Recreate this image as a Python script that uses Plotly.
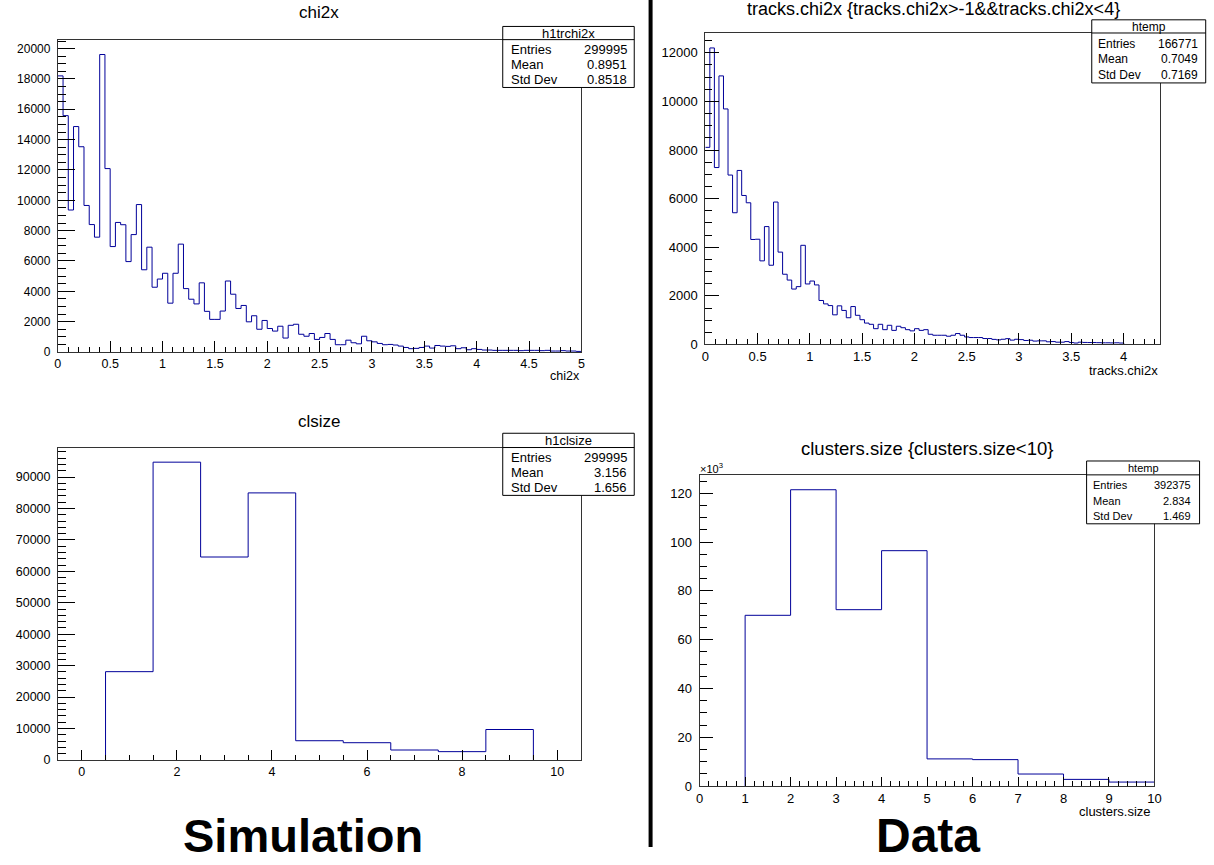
import numpy as np
import plotly.graph_objects as go

W, H = 1214, 865

# ---------------- data ----------------
# Simulation chi2x: 100 bins on [0, 5]
sim_chi2x_lo, sim_chi2x_hi, sim_chi2x_nbins = 0.0, 5.0, 100
sim_chi2x_counts = [
    18200, 15580, 9360, 14860, 13530, 9660, 8400, 7570, 19610, 12090,
    6950, 8540, 8390, 5960, 7740, 9720, 5420, 6910, 4270, 4810,
    5190, 3220, 5190, 7110, 4180, 3480, 3170, 4560, 2680, 2150,
    2150, 2700, 4680, 3810, 2870, 3070, 1990, 2390, 1500, 2080,
    1550, 1380, 1700, 920, 1760, 1830, 1170, 1040, 1220, 830,
    960, 1220, 830, 480, 480, 780, 610, 540, 1040, 740,
    670, 565, 480, 500, 460, 390, 300, 220, 240, 300,
    390, 260, 430, 390, 370, 410, 220, 280, 150, 220,
    170, 130, 130, 110, 110, 110, 110, 110, 90, 110,
    110, 110, 90, 110, 65, 65, 90, 65, 65, 40,
]

# Data tracks.chi2x: 100 bins on [0, 4.35]
data_chi2x_lo, data_chi2x_hi, data_chi2x_nbins = 0.0, 4.35, 100
data_chi2x_counts = [
    8110, 12200, 7280, 11050, 9690, 6970, 5420, 7160, 6130, 5830,
    4320, 4330, 3440, 4850, 3260, 5860, 3800, 2890, 2650, 2280,
    2380, 4080, 2490, 2610, 2450, 1810, 1670, 1600, 1220, 1590,
    1400, 1100, 1560, 1200, 1020, 880, 830, 650, 830, 610,
    790, 580, 750, 690, 610, 560, 650, 580, 610, 420,
    380, 380, 380, 340, 380, 450, 380, 310, 285, 285,
    285, 245, 245, 210, 190, 215, 240, 180, 215, 200,
    165, 175, 140, 150, 150, 110, 120, 95, 95, 120,
    82, 60, 95, 85, 80, 80, 75, 70, 70, 65,
    70, 60, 0, 0, 0, 0, 0, 0, 0, 0,
]

# Simulation clsize: 11 bins on [-0.5, 10.5]
sim_cl_lo, sim_cl_hi, sim_cl_nbins = -0.5, 10.5, 11
sim_cl_counts = [0, 28080, 94740, 64560, 84960, 6100, 5470, 3150, 2630, 9670, 0]

# Data clusters.size (x10^3): 10 bins on [0, 10]
data_cl_lo, data_cl_hi, data_cl_nbins = 0.0, 10.0, 10
data_cl_counts_k = [0, 70.0, 121.5, 72.3, 96.5, 11.1, 10.8, 4.9, 2.7, 1.6]

# stat boxes
stats_tl = ("h1trchi2x", [("Entries", "299995"), ("Mean", "0.8951"), ("Std Dev", "0.8518")])
stats_tr = ("htemp", [("Entries", "166771"), ("Mean", "0.7049"), ("Std Dev", "0.7169")])
stats_bl = ("h1clsize", [("Entries", "299995"), ("Mean", "3.156"), ("Std Dev", "1.656")])
stats_br = ("htemp", [("Entries", "392375"), ("Mean", "2.834"), ("Std Dev", "1.469")])

titles = ["chi2x", "tracks.chi2x {tracks.chi2x>-1&&tracks.chi2x<4}",
          "clsize", "clusters.size {clusters.size<10}"]

FONT = "Liberation Sans"
LINE = "#000099"


def px(x):
    return x / W


def py(y):
    return 1 - y / H


def step(lo, hi, nb, counts):
    """ROOT-like outline: skip empty bins at both ends, drop to 0 at the ends."""
    edges = np.linspace(lo, hi, nb + 1)
    c = np.asarray(counts, dtype=float)
    nz = np.nonzero(c)[0]
    i0, i1 = nz[0], nz[-1]
    xs, ys = [], []
    if i0 > 0:
        xs.append(edges[i0]); ys.append(0.0)
    for i in range(i0, i1 + 1):
        xs.append(edges[i]); ys.append(c[i])
    xs.append(edges[i1 + 1]); ys.append(c[i1])
    if i1 < nb - 1:
        xs.append(edges[i1 + 1]); ys.append(0.0)
    return xs, ys


fig = go.Figure()

hists = [
    (sim_chi2x_lo, sim_chi2x_hi, sim_chi2x_nbins, sim_chi2x_counts, "x", "y"),
    (data_chi2x_lo, data_chi2x_hi, data_chi2x_nbins, data_chi2x_counts, "x2", "y2"),
    (sim_cl_lo, sim_cl_hi, sim_cl_nbins, sim_cl_counts, "x3", "y3"),
    (data_cl_lo, data_cl_hi, data_cl_nbins, data_cl_counts_k, "x4", "y4"),
]
for lo, hi, nb, c, xa, ya in hists:
    xs, ys = step(lo, hi, nb, c)
    fig.add_trace(go.Scatter(x=xs, y=ys, mode="lines", line=dict(color=LINE, width=1, shape="hv"),
                             xaxis=xa, yaxis=ya, showlegend=False, hoverinfo="skip"))


def ax(domain, rng, dtick, mdtick, tlen, mlen, anchor, fsize=12.5, fmt=None, standoff=None):
    d = dict(domain=domain, range=rng, showgrid=False, zeroline=False, showline=True, mirror=True,
             linecolor="#333333", linewidth=1, ticks="inside", ticklen=tlen, tickwidth=1,
             tickcolor="#000000", tick0=0, dtick=dtick,
             minor=dict(ticks="inside", ticklen=mlen, dtick=mdtick, tickwidth=1, tickcolor="#000000",
                        showgrid=False),
             tickfont=dict(family=FONT, size=fsize, color="black"), anchor=anchor, fixedrange=True)
    if fmt:
        d["tickformat"] = fmt
    if standoff is not None:
        d["ticklabelstandoff"] = standoff
    return d


frames = {
    "tl": (54.3, 582.7, 40.0, 355.3),
    "tr": (707.7, 1166.7, 33.3, 347.7),
    "bl": (54.5, 582.2, 451.7, 767.0),
    "br": (702.0, 1161.0, 479.3, 793.3),
}


def dom(f):
    x0, x1, t, b = f
    return [px(x0), px(x1)], [py(b), py(t)]


dx, dy = dom(frames["tl"])
layout = dict(
    xaxis=ax(dx, [0, 5], 0.5, 0.1, 11, 5.5, "y", fsize=12.5),
    yaxis=ax(dy, [0, 20590], 2000, 500, 16.7, 8.5, "x", fsize=12, fmt="d", standoff=4),
)
dx, dy = dom(frames["tr"])
layout.update(
    xaxis2=ax(dx, [0, 4.35], 0.5, 0.1, 11, 5.5, "y2", fsize=13),
    yaxis2=ax(dy, [0, 12815], 2000, 500, 14, 7, "x2", fsize=13, fmt="d", standoff=4),
)
dx, dy = dom(frames["bl"])
layout.update(
    xaxis3=ax(dx, [-0.5, 10.5], 2, 0.5, 10, 5, "y3", fsize=12.5),
    yaxis3=ax(dy, [0, 99400], 10000, 2000, 16.6, 8.3, "x3", fsize=12.5, fmt="d", standoff=4),
)
dx, dy = dom(frames["br"])
layout.update(
    xaxis4=ax(dx, [0, 10], 1, 0.2, 9, 4.5, "y4", fsize=13),
    yaxis4=ax(dy, [0, 127.6], 20, 5, 13.7, 7, "x4", fsize=13, fmt="d", standoff=4),
)

shapes = []
annotations = []


def text(x, y, s, size, xanchor="center", bold=False):
    annotations.append(dict(x=px(x), y=py(y), xref="paper", yref="paper", text=s, showarrow=False,
                            xanchor=xanchor, yanchor="middle",
                            font=dict(family=FONT, size=size, color="black",
                                      weight="bold" if bold else "normal")))


def statbox(x0, x1, y0, ysep, y1, stats, size, header_y, rows_y, lab_x, val_x):
    shapes.append(dict(type="rect", xref="paper", yref="paper", x0=px(x0), x1=px(x1), y0=py(y1), y1=py(y0),
                       line=dict(color="black", width=1), fillcolor="white", layer="above"))
    shapes.append(dict(type="line", xref="paper", yref="paper", x0=px(x0), x1=px(x1), y0=py(ysep), y1=py(ysep),
                       line=dict(color="black", width=1), layer="above"))
    name, rows = stats
    text((x0 + x1) / 2, header_y, name, size)
    for (lab, val), yy in zip(rows, rows_y):
        text(lab_x, yy, lab, size, "left")
        text(val_x, yy, val, size, "right")


statbox(503.3, 636, 26.7, 40, 88.3, stats_tl, 13, 33.5, [49.5, 65, 80.5], 510, 631)
statbox(1097.7, 1212.7, 20, 33.3, 83.7, stats_tr, 12, 27, [44, 60, 76], 1102, 1207)
statbox(503.3, 636, 437.3, 451.7, 500, stats_bl, 13, 444.5, [461.5, 477, 492.5], 510, 631)
statbox(1092.5, 1206.5, 465.3, 479.3, 528.7, stats_br, 11, 472.3, [489.5, 505.5, 521], 1097, 1200)

# titles
text(317.7, 13, titles[0], 17)
text(937.5, 9, titles[1], 18)
text(318, 425, titles[2], 17)
text(931, 453, titles[3], 18.5)

# axis titles
text(583, 380, "chi2x", 12.5, "right")
text(1166.7, 374, "tracks.chi2x", 13, "right")
text(1160, 819, "clusters.size", 13, "right")

# exponent label
text(700, 472, "×10<sup>3</sup>", 11, "left")

# big labels
text(301.5, 843, "Simulation", 47, bold=True)
text(932.5, 843, "Data", 48, bold=True)

# divider
shapes.append(dict(type="line", xref="paper", yref="paper", x0=px(652.5), x1=px(652.5), y0=py(855), y1=1,
                   line=dict(color="black", width=4), layer="above"))

fig.update_layout(**layout)
fig.update_layout(width=W, height=H, autosize=False, margin=dict(l=0, r=0, t=0, b=0, pad=0),
                  paper_bgcolor="white", plot_bgcolor="white", shapes=shapes, annotations=annotations,
                  showlegend=False)

fig.write_html("out.html", config={"displayModeBar": False})
